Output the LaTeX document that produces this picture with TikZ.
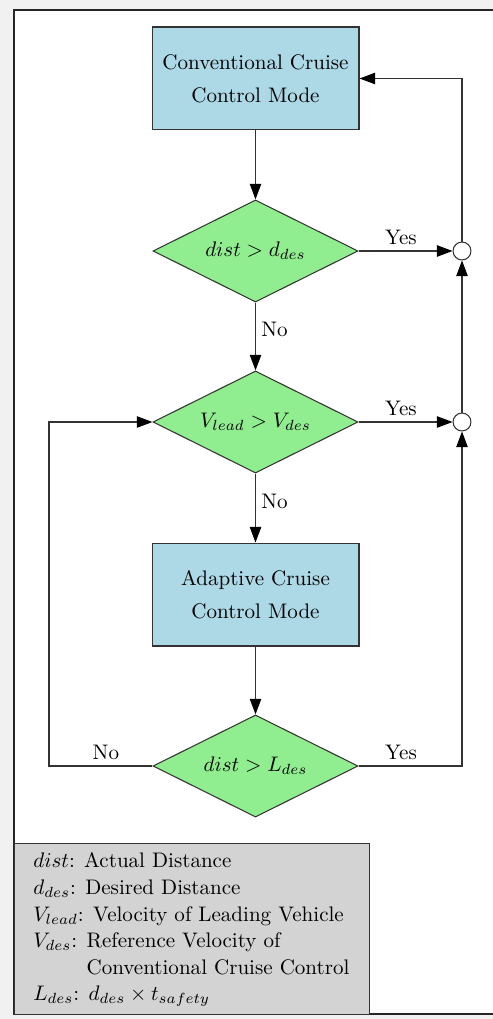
\documentclass[tikz,border=0pt]{standalone}
\usetikzlibrary{shapes.geometric,arrows.meta}
\definecolor{ccblue}{HTML}{ADD8E6}
\definecolor{ccgreen}{HTML}{90EE90}
\definecolor{ccgray}{HTML}{D3D3D3}
\definecolor{pagegray}{HTML}{F1F1F1}

\begin{document}
\begin{tikzpicture}[x=0.475pt,y=-0.475pt,
  modebox/.style={draw=black!80, fill=ccblue, minimum width=98.3pt, minimum height=48.9pt,
    align=center, inner sep=0pt, line width=0.5pt},
  decision/.style={diamond, aspect=2, draw=black!80, fill=ccgreen, minimum width=97.4pt,
    minimum height=48.5pt, inner sep=0pt, line width=0.5pt},
  junction/.style={circle, draw=black!80, fill=white, minimum size=8.5pt, inner sep=0pt,
    line width=0.5pt},
  flow/.style={draw=black!80, line width=0.55pt,
    -{Triangle[length=7.4pt,width=5.4pt,color=black]}},
  lbl/.style={inner sep=2.5pt},
  legendbox/.style={draw=black!80, fill=ccgray, line width=0.6pt, anchor=north west,
    minimum width=168.6pt, minimum height=81.2pt, inner sep=0pt}
]
\useasboundingbox (0,0) rectangle (493,1019);
\clip (0,0) rectangle (493,1019);

% page and frame
\fill[pagegray] (0,0) rectangle (493,1019);
\draw[fill=white, draw=black!85, line width=0.8pt] (14,10) rectangle (520,1014);

% flow chart nodes
\node[modebox] (ccm) at (255.5,78.5) {Conventional Cruise\\[3.5pt]Control Mode};
\node[decision] (d1) at (255.5,251) {$dist > d_{des}$};
\node[decision] (d2) at (255.5,422) {$V_{lead} > V_{des}$};
\node[modebox] (acc) at (255.5,594.5) {Adaptive Cruise\\[3.5pt]Control Mode};
\node[decision] (d3) at (255.5,766) {$dist > L_{des}$};
\node[junction] (j1) at (462,251) {};
\node[junction] (j2) at (462,422) {};
\coordinate (loop) at (49,766);

% connectors
\draw[flow] (ccm) -- (d1);
\draw[flow] (d1) -- node[lbl,right,pos=0.4]{No} (d2);
\draw[flow] (d2) -- node[lbl,right,pos=0.41]{No} (acc);
\draw[flow] (acc) -- (d3);
\draw[flow] (d1) -- node[lbl,above,pos=0.45]{Yes} (j1);
\draw[flow] (d2) -- node[lbl,above,pos=0.45]{Yes} (j2);
\draw[flow] (d3.east) -- node[lbl,above,pos=0.41]{Yes} (d3.east -| j2) -- (j2);
\draw[flow] (d3.west) -- node[lbl,above,pos=0.45]{No} (loop) |- (d2.west);
\draw[flow] (j2) -- (j1);
\draw[flow] (j1) |- (ccm.east);

% legend
\node[legendbox] (legend) at (14,843) {};
\node[anchor=west, align=left, inner sep=0pt, font={\fontsize{10}{12.6}\selectfont}]
  (legendtext) at ([xshift=9pt,yshift=-0.3pt]legend.west)
  {$dist$: Actual Distance\\
   $d_{des}$: Desired Distance\\
   $V_{lead}$: Velocity of Leading Vehicle\\
   $V_{des}$: Reference Velocity of\\
   \hphantom{$V_{des}$: }Conventional Cruise Control\\
   $L_{des}$: $d_{des}\times t_{safety}$};
\end{tikzpicture}
\end{document}
